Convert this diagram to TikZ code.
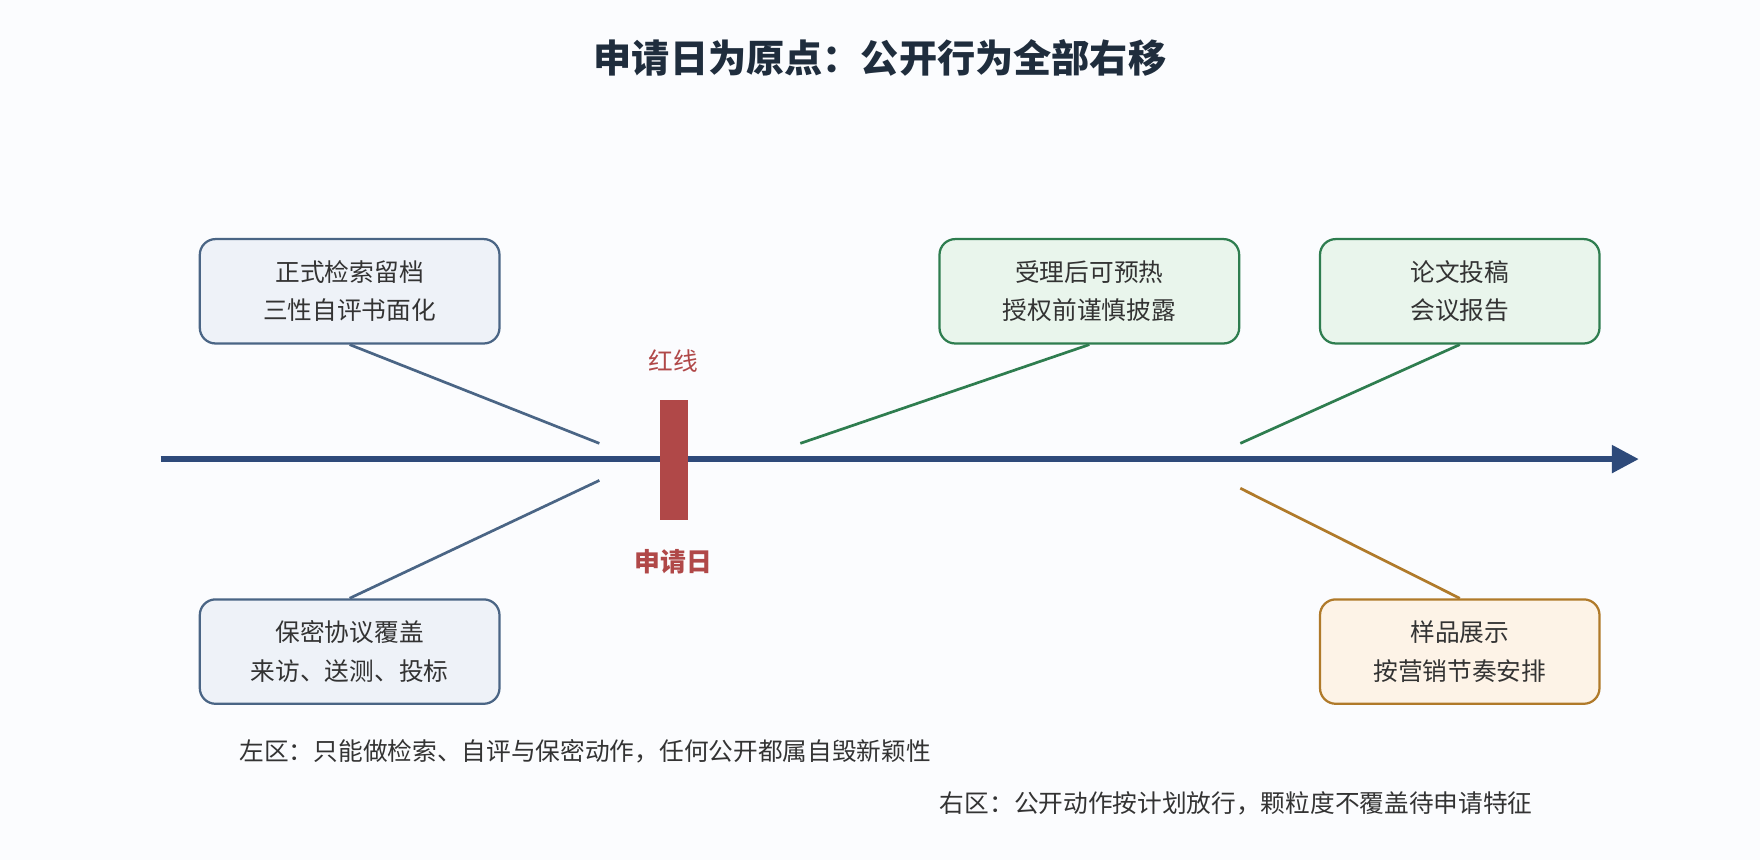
\documentclass[tikz,border=0pt]{standalone}
\usepackage{fontspec}
\setmainfont{Noto Sans CJK SC}
\usetikzlibrary{arrows.meta}
\definecolor{bg}{HTML}{FBFCFE}
\definecolor{bfill}{HTML}{EEF2F8}\definecolor{bdraw}{HTML}{4A6585}
\definecolor{gfill}{HTML}{E9F5EC}\definecolor{gdraw}{HTML}{2E7D4F}
\definecolor{ofill}{HTML}{FDF3E7}\definecolor{odraw}{HTML}{B07A2A}
\definecolor{axis}{HTML}{2E4A7A}\definecolor{redc}{HTML}{B04848}
\definecolor{txt}{HTML}{333333}\definecolor{ttl}{HTML}{1F2D3D}
\begin{document}
\begin{tikzpicture}[x=0.5pt,y=-0.5pt,
 box/.style={rounded corners=7pt,line width=1pt,align=center,font=\fontsize{11}{17}\selectfont,text=txt,inner sep=0pt},
 bbox/.style={box,draw=bdraw,fill=bfill,minimum width=133.5pt,minimum height=46.5pt},
 gbox/.style={box,draw=gdraw,fill=gfill,minimum height=46.5pt},
 obox/.style={box,draw=odraw,fill=ofill,minimum width=124.5pt,minimum height=46.5pt},
 captxt/.style={font=\fontsize{11}{13}\selectfont,text=txt,anchor=west,inner sep=0pt}]
\fill[bg] (0,0) rectangle (1568,766);
\useasboundingbox (0,0) rectangle (1568,766);
\node[font=\bfseries\fontsize{17}{20}\selectfont,text=ttl] (title) at (784,52) {申请日为原点：公开行为全部右移};
\coordinate (a0) at (143,409); \coordinate (a1) at (1460,409);
\draw[axis,line width=2.5pt,-{Triangle[length=12pt,width=12pt]}] (a0) -- (a1);
\node[fill=redc,minimum width=12.5pt,minimum height=53.5pt,inner sep=0pt] (bar) at (600.5,409.5) {};
\node[text=redc,font=\fontsize{11}{13}\selectfont] (hx) at (600,322) {红线};
\node[text=redc,font=\bfseries\fontsize{11.5}{13}\selectfont] (sq) at (600,500) {申请日};
\node[bbox] (b1) at (311.5,259.5) {正式检索留档\\三性自评书面化};
\node[bbox] (b2) at (311.5,580.5) {保密协议覆盖\\来访、送测、投标};
\node[gbox,minimum width=133.5pt] (g1) at (970.5,259.5) {受理后可预热\\授权前谨慎披露};
\node[gbox,minimum width=124.5pt] (g2) at (1300.5,259.5) {论文投稿\\会议报告};
\node[obox] (o1) at (1300.5,580.5) {样品展示\\按营销节奏安排};
\coordinate (e1) at (534,395); \coordinate (e2) at (534,428);
\coordinate (e3) at (713,395); \coordinate (e4) at (1105,395); \coordinate (e5) at (1105,435);
\draw[bdraw,line width=1.2pt] (b1.south) -- (e1);
\draw[bdraw,line width=1.2pt] (b2.north) -- (e2);
\draw[gdraw,line width=1.2pt] (g1.south) -- (e3);
\draw[gdraw,line width=1.2pt] (g2.south) -- (e4);
\draw[odraw,line width=1.2pt] (o1.north) -- (e5);
\node[captxt] (l) at (213,669) {左区：只能做检索、自评与保密动作，任何公开都属自毁新颖性};
\node[captxt] (r) at (837,716) {右区：公开动作按计划放行，颗粒度不覆盖待申请特征};
\end{tikzpicture}
\end{document}
